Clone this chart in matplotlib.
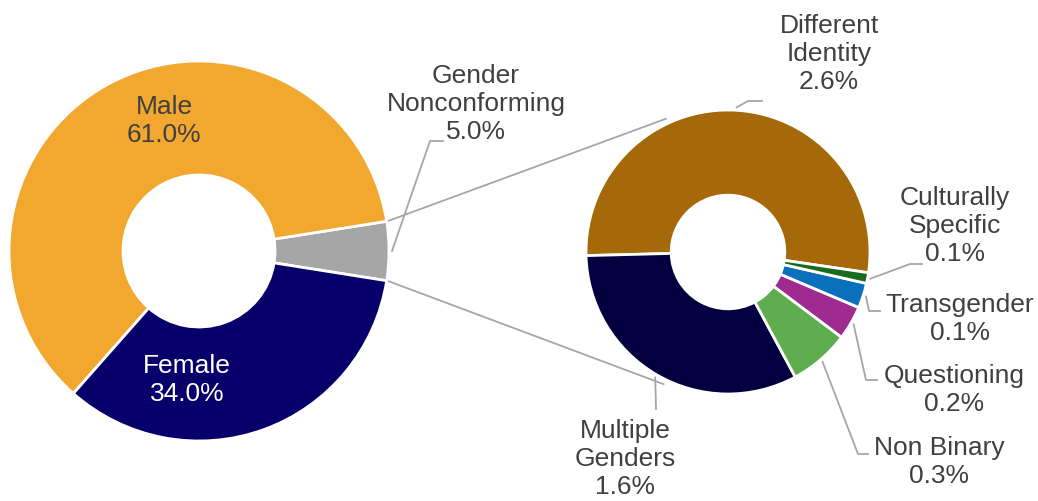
import numpy as np
import matplotlib.pyplot as plt

plt.rcParams['font.family'] = ['Liberation Sans', 'DejaVu Sans']

# Data
main_labels = ['Gender\nNonconforming', 'Male', 'Female']
main_values = [5.0, 61.0, 34.0]
main_colors = ['#A6A6A6', '#F2A72F', '#07006B']

sub_labels = ['Different\nIdentity', 'Multiple\nGenders', 'Non Binary',
              'Questioning', 'Transgender', 'Culturally\nSpecific']
sub_values = [2.6, 1.6, 0.34, 0.19, 0.14, 0.06]
sub_colors = ['#A5690A', '#02003F', '#5EAD4E', '#A02B90', '#0B70BC', '#1A6B20']

W, H = 1038, 502
text_color = '#404040'
line_color = '#A6A6A6'
fs = 19


def P(x, y):
    # pixel coords (y down) -> data coords (y up)
    return x, H - y


fig = plt.figure(figsize=(W / 100, H / 100), dpi=100)
ax = fig.add_axes([0, 0, 1, 1])

c1, r1 = P(199, 252), 190
c2, r2 = P(728, 253), 142

w1, _ = ax.pie(main_values, radius=r1, center=c1, startangle=-9, counterclock=True,
               colors=main_colors,
               wedgeprops=dict(width=r1 * 0.6, edgecolor='white', linewidth=2))
w2, _ = ax.pie(sub_values, radius=r2, center=c2, startangle=-8.4, counterclock=True,
               colors=sub_colors,
               wedgeprops=dict(width=r2 * 0.6, edgecolor='white', linewidth=2))

ax.set_xlim(0, W)
ax.set_ylim(0, H)
ax.set_aspect('equal')
ax.axis('off')


def polar(c, r, ang):
    a = np.deg2rad(ang)
    return c[0] + r * np.cos(a), c[1] + r * np.sin(a)


# connector lines between the gray slice and the secondary donut
gray = w1[0]
for ga, sa in [(gray.theta2, 115), (gray.theta1, 244)]:
    x0, y0 = polar(c1, r1 + 1, ga)
    x1, y1 = polar(c2, r2 + 5, sa)
    ax.plot([x0, x1], [y0, y1], color=line_color, lw=1.3, zorder=0)

# labels inside main donut
ax.text(*P(164, 121), f'{main_labels[1]}\n{main_values[1]:.1f}%', ha='center', va='center',
        fontsize=fs, color=text_color, linespacing=1.2)
ax.text(*P(187, 380), f'{main_labels[2]}\n{main_values[2]:.1f}%', ha='center', va='center',
        fontsize=fs, color='white', linespacing=1.2)


def leader(wedge, c, r, pts, txt_xy, text):
    mid = (wedge.theta1 + wedge.theta2) / 2
    x0, y0 = polar(c, r + 3, mid)
    xs = [x0] + [P(*p)[0] for p in pts]
    ys = [y0] + [P(*p)[1] for p in pts]
    ax.plot(xs, ys, color=line_color, lw=1.3)
    ax.text(*P(*txt_xy), text, ha='center', va='center', fontsize=fs,
            color=text_color, linespacing=1.2)


leader(w1[0], c1, r1, [(430, 142), (443, 142)], (476, 104),
       f'{main_labels[0]}\n{main_values[0]:.1f}%')

sub_layout = [
    ([(748, 102), (762, 102)], (829, 54)),
    ([(656, 410)], (625, 459)),
    ([(858, 455), (868, 455)], (939, 462)),
    ([(866, 381), (877, 381)], (954, 390)),
    ([(869, 312), (880, 312)], (960, 319)),
    ([(910, 265), (922, 265)], (955, 226)),
]
for w, lab, v, (pts, txy) in zip(w2, sub_labels, sub_values, sub_layout):
    leader(w, c2, r2, pts, txy, f'{lab}\n{v:.1f}%')

fig.savefig('out.png', dpi=100, facecolor='white')
